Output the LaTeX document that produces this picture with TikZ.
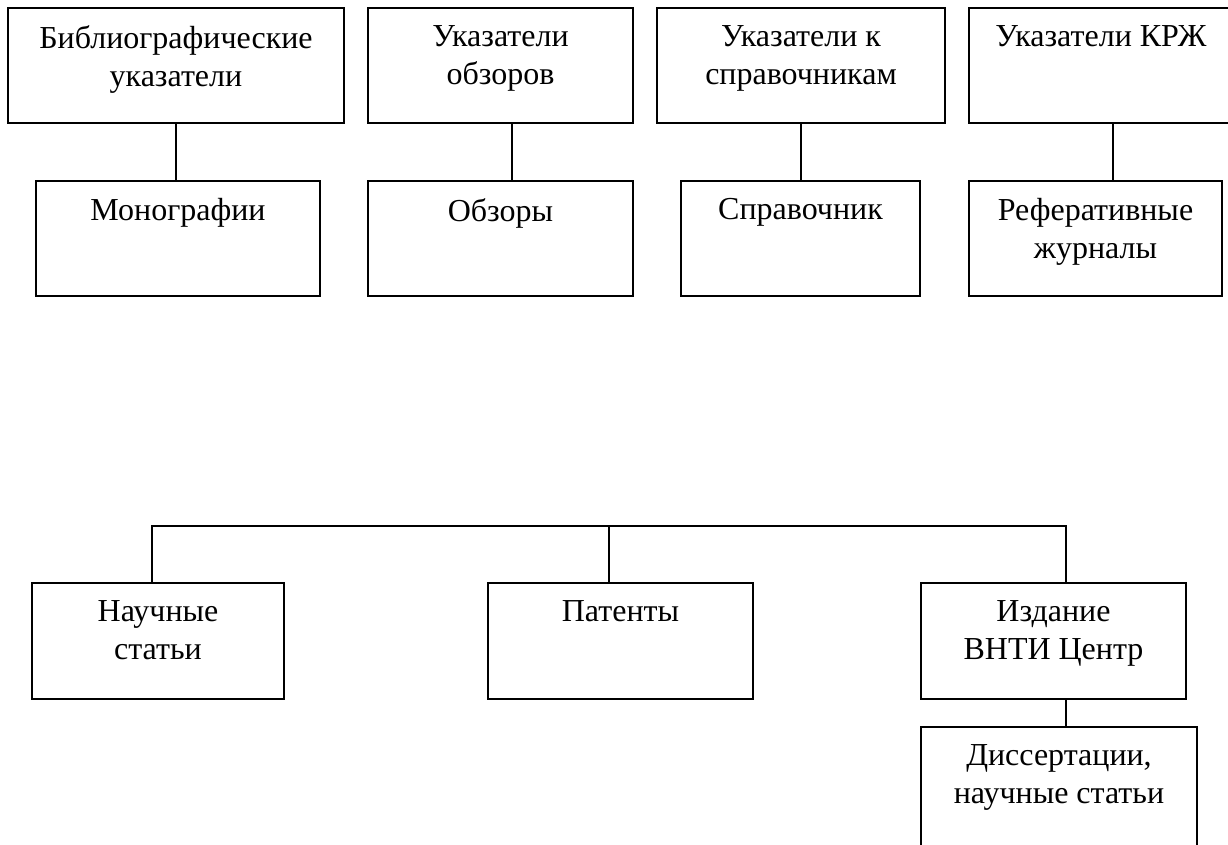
\documentclass[tikz,border=0pt]{standalone}
\usepackage{fontspec}
\setmainfont{Liberation Serif}
\usetikzlibrary{positioning}

\begin{document}
\begin{tikzpicture}[x=1pt, y=-1pt,
    box/.style={draw, line width=1.6pt, inner sep=0pt, outer sep=0pt, minimum height=115pt},
    txt/.style={anchor=north, inner sep=0pt, align=center, yshift=-17pt, font=\fontsize{32}{38}\selectfont},
    link/.style={line width=1.6pt}]
    \useasboundingbox (0,0) rectangle (1228,845);
    \clip (0,0) rectangle (1228,845);

    % upper row
    \node[box, minimum width=336pt, label={[txt]north:Библиографические\\указатели}] (bib) at (176,65.5) {};
    \node[box, minimum width=265pt, label={[txt]north:Указатели\\обзоров}] (obz) at (500.5,65.5) {};
    \node[box, minimum width=288pt, label={[txt]north:Указатели к\\справочникам}] (spr) at (801,65.5) {};
    \node[box, minimum width=264pt, label={[txt]north:Указатели КРЖ}] (krz) at (1101,65.5) {};

    \node[box, minimum width=284pt, label={[txt]north:Монографии}] (mono) at (178,238.5) {};
    \node[box, minimum width=265pt, label={[txt]north:Обзоры}] (rev) at (500.5,238.5) {};
    \node[box, minimum width=239pt, label={[txt]north:Справочник}] (hand) at (800.5,238.5) {};
    \node[box, minimum width=253pt, label={[txt]north:Реферативные\\журналы}] (abs) at (1095.5,238.5) {};

    % lower row
    \node[box, minimum width=252pt, minimum height=116pt, label={[txt]north:Научные\\статьи}] (sci) at (158,641) {};
    \node[box, minimum width=265pt, minimum height=116pt, label={[txt]north:Патенты}] (pat) at (620.5,641) {};
    \node[box, minimum width=265pt, minimum height=116pt, label={[txt]north:Издание\\ВНТИ Центр}] (vnti) at (1053.5,641) {};
    \node[box, minimum width=276pt, minimum height=150pt, label={[txt]north:Диссертации,\\научные статьи}] (diss) at (1059,802) {};

    \coordinate (bus) at (609,526);

    \draw[link] (bib.south) -- (bib.south |- mono.north);
    \draw[link] ([xshift=11.5pt]obz.south) -- ([xshift=11.5pt]obz.south |- rev.north);
    \draw[link] (spr.south) -- (spr.south |- hand.north);
    \draw[link] ([xshift=12pt]krz.south) -- ([xshift=12pt]krz.south |- abs.north);

    \draw[link] ([xshift=-6pt]sci.north) |- (bus) -| ([xshift=12.5pt]vnti.north);
    \draw[link] ([xshift=-11.5pt]pat.north) -- ([xshift=-11.5pt]pat.north |- bus);
    \draw[link] ([xshift=12.5pt]vnti.south) -- ([xshift=12.5pt]vnti.south |- diss.north);
\end{tikzpicture}
\end{document}
